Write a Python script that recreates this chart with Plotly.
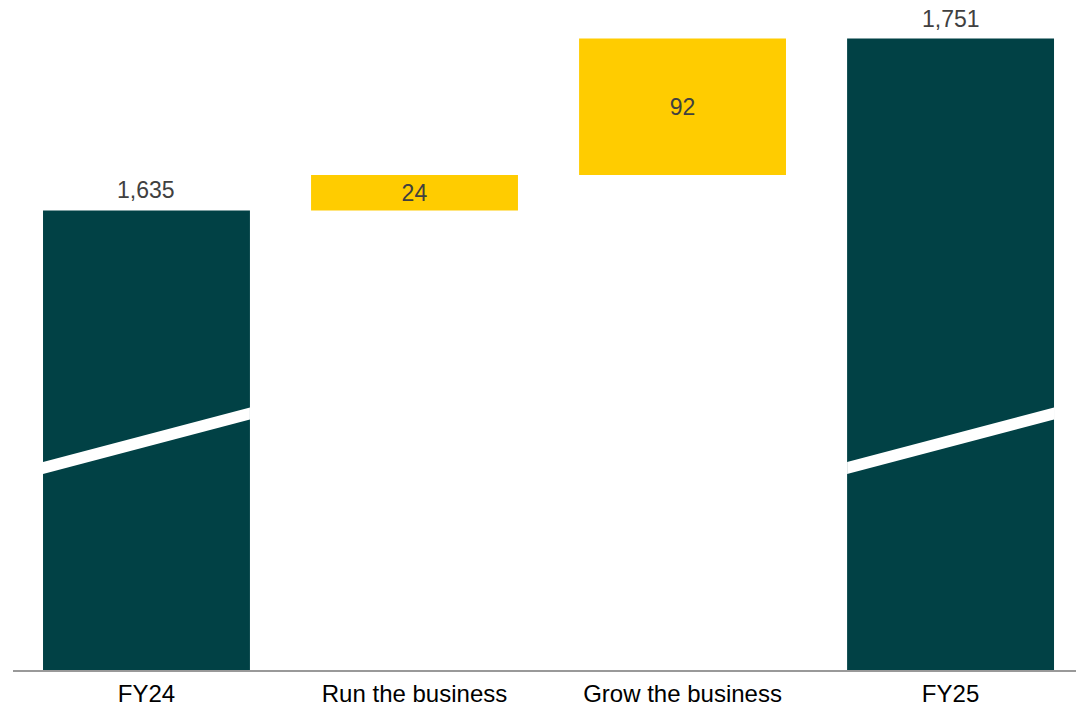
import plotly.graph_objects as go

# Waterfall: FY24 opening, two drivers, FY25 closing
categories = ["FY24", "Run the business", "Grow the business", "FY25"]
values = [1635, 24, 92, 1751]
measures = ["absolute", "relative", "relative", "total"]
labels = [f"{v:,}" for v in values]

TEAL = "#014145"
GOLD = "#FFCC00"
FONT = "Liberation Sans, Arial, sans-serif"

BAR_W = 0.772
Y_MIN, Y_MAX = 1325, 1777

# drivers carry their label inside the bar; totals get a label above
inside_text = [lab if m == "relative" else "" for lab, m in zip(labels, measures)]

fig = go.Figure()
fig.add_trace(go.Waterfall(
    x=list(range(len(categories))),
    y=values,
    measure=measures,
    width=[BAR_W] * len(categories),
    text=inside_text,
    textposition="inside",
    insidetextanchor="middle",
    constraintext="none",
    textfont=dict(family=FONT, size=23, color="#404040"),
    increasing=dict(marker=dict(color=GOLD)),
    decreasing=dict(marker=dict(color=GOLD)),
    totals=dict(marker=dict(color=TEAL)),
    connector=dict(visible=False),
    cliponaxis=False,
    hoverinfo="skip",
))

for i, (v, m, lab) in enumerate(zip(values, measures, labels)):
    if m in ("absolute", "total"):
        fig.add_annotation(
            x=i, y=v, xref="x", yref="y",
            text=lab, showarrow=False,
            yanchor="bottom", yshift=5,
            font=dict(family=FONT, size=23, color="#404040"),
        )

# Axis-break slashes across the truncated total bars
for i in (0, len(categories) - 1):
    xl, xr = i - BAR_W / 2, i + BAR_W / 2
    yl, yr = 1461.2, 1498.0
    h = 4.05
    fig.add_shape(
        type="path",
        path=f"M {xl},{yl - h} L {xr},{yr - h} L {xr},{yr + h} L {xl},{yl + h} Z",
        xref="x", yref="y",
        fillcolor="white", line=dict(width=0),
        layer="above",
    )

fig.update_layout(
    width=1076, height=707,
    margin=dict(l=13, r=0, t=0, b=37),
    paper_bgcolor="white", plot_bgcolor="white",
    showlegend=False,
    font=dict(family=FONT, size=22, color="#000000"),
    xaxis=dict(
        range=[-0.498, 3.468],
        tickmode="array",
        tickvals=list(range(len(categories))),
        ticktext=categories,
        tickfont=dict(family=FONT, size=24, color="#000000"),
        ticklabelstandoff=1,
        automargin=False,
        showline=True, linecolor="#999999", linewidth=2,
        showgrid=False, zeroline=False, ticks="",
    ),
    yaxis=dict(
        range=[Y_MIN, Y_MAX],
        visible=False, showgrid=False, zeroline=False,
        automargin=False,
    ),
)

fig.write_html("out.html")
